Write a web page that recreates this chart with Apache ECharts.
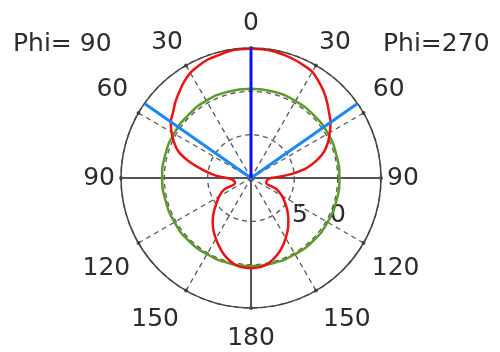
<!DOCTYPE html>
<html>
<head>
<meta charset="utf-8">
<script src="https://cdn.jsdelivr.net/npm/echarts@6/dist/echarts.min.js"></script>
<style>
  html, body { margin: 0; padding: 0; background: #ffffff; }
  #chart { width: 500px; height: 352px; }
</style>
</head>
<body>
<div id="chart"></div>
<script>
// Elevation pattern, two azimuth cuts (Phi = 90 on the left, Phi = 270 on the right).
// Radial unit: one grid ring = 1, outer ring = 3.

// Angle grid (degrees, clockwise from the zenith)
const angleTicks = [0, 30, 60, 90, 120, 150, 180, 210, 240, 270, 300, 330];

// Theta values at which the pattern was read (0 = zenith, 180 = nadir)
const thetaSteps = [0, 5, 10, 15, 20, 25, 30, 35, 40, 45, 50, 55, 60, 65, 70, 75, 80, 84, 87, 90,
                    95, 100, 108, 113, 120, 126, 132, 138, 144, 150, 155, 160, 165, 170, 175, 180];

// Main pattern, Phi = 270 side (right half)
const patternRight = [2.98, 2.98, 2.97, 2.94, 2.91, 2.87, 2.83, 2.72, 2.61, 2.48, 2.35, 2.24, 2.10, 1.96,
                      1.80, 1.57, 1.29, 0.97, 0.69, 0.46, 0.39, 0.37, 0.37, 0.62, 0.83, 0.97, 1.13, 1.29,
                      1.45, 1.60, 1.73, 1.85, 1.95, 2.03, 2.07, 2.08];

// Main pattern, Phi = 90 side (left half)
const patternLeft = [2.98, 2.98, 2.97, 2.93, 2.91, 2.86, 2.80, 2.70, 2.58, 2.47, 2.35, 2.26, 2.12, 1.96,
                     1.78, 1.48, 1.15, 0.92, 0.76, 0.55, 0.44, 0.39, 0.39, 0.67, 0.85, 0.98, 1.15, 1.32,
                     1.48, 1.62, 1.74, 1.86, 1.96, 2.04, 2.07, 2.08];

// Reference pattern (nearly isotropic)
const refAngles = [0, 15, 30, 45, 60, 75, 90, 105, 120, 135, 150, 165, 180,
                   195, 210, 225, 240, 255, 270, 285, 300, 315, 330, 345];
const refValues = [2.06, 2.06, 2.05, 2.05, 2.05, 2.04, 2.04, 2.04, 2.04, 2.04, 2.03, 2.03, 2.03,
                   2.03, 2.03, 2.04, 2.04, 2.04, 2.05, 2.05, 2.05, 2.05, 2.06, 2.06];

// Beam markers
const mainBeam = 0;
const halfPowerAngles = [305, 55];

// Texts
const cutLabels = ['Phi= 90', 'Phi=270'];
const ringLabels = ['5', '0'];

const R_MAX = 3;
const FONT = 'DejaVu Sans';
const TEXT_COLOR = '#2b2b2b';

// Build the closed pattern path: left half from nadir up to zenith, then right half down to nadir
const patternData = [];
for (let i = thetaSteps.length - 1; i >= 0; i--) {
  patternData.push([patternLeft[i], 360 - thetaSteps[i]]);
}
for (let i = 0; i < thetaSteps.length; i++) {
  patternData.push([patternRight[i], thetaSteps[i]]);
}

const refData = refAngles.map((a, i) => [refValues[i], a]);
refData.push([refValues[0], 360]);

// Per-label spacing around the rim
const base = { fontFamily: FONT, fontSize: 25, color: TEXT_COLOR };
const labelStyles = {
  a0:   Object.assign({ padding: [0, 0, 6, 0] }, base),
  a30:  Object.assign({ padding: [0, 0, 5, 0] }, base),
  a60l: Object.assign({ padding: [0, 5, 8, 0] }, base),
  a60r: Object.assign({ padding: [0, 0, 8, 4] }, base),
  a90:  Object.assign({ padding: [0, 0, 0, 0] }, base),
  a120l: Object.assign({ padding: [10, 3, 0, 0] }, base),
  a120r: Object.assign({ padding: [10, 0, 0, 3] }, base),
  a150l: Object.assign({ padding: [11, 4, 0, 0] }, base),
  a150r: Object.assign({ padding: [11, 0, 0, 4] }, base),
  a180: Object.assign({ padding: [12, 0, 0, 0] }, base)
};
const styleFor = {
  0: 'a0', 30: 'a30', 60: 'a60r', 90: 'a90', 120: 'a120r', 150: 'a150r', 180: 'a180',
  210: 'a150l', 240: 'a120l', 270: 'a90', 300: 'a60l', 330: 'a30'
};

const chart = echarts.init(document.getElementById('chart'), null, { renderer: 'canvas' });

chart.setOption({
  animation: false,
  backgroundColor: '#ffffff',
  polar: { center: [251, 178], radius: 130 },
  angleAxis: {
    type: 'value',
    min: 0,
    max: 360,
    interval: 30,
    startAngle: 90,
    clockwise: true,
    axisLine: { show: true, lineStyle: { color: '#444', width: 1.5 } },
    axisTick: { show: false },
    axisLabel: {
      margin: 6,
      fontFamily: FONT,
      fontSize: 25,
      color: TEXT_COLOR,
      formatter: v => '{' + (styleFor[v] || 'a90') + '|' + (v <= 180 ? v : 360 - v) + '}',
      rich: labelStyles
    },
    splitLine: { show: true, lineStyle: { color: '#555', width: 1.3, type: [5, 4] } }
  },
  radiusAxis: {
    type: 'value',
    min: 0,
    max: R_MAX,
    interval: 1,
    axisLine: { show: false },
    axisTick: { show: false },
    axisLabel: { show: false },
    splitLine: { show: true, lineStyle: { color: '#555', width: 1.3, type: [5, 4] } }
  },
  graphic: [
    { type: 'text', left: 13, top: 32, style: { text: cutLabels[0], font: '25px "DejaVu Sans"', fill: TEXT_COLOR } },
    { type: 'text', left: 383, top: 32, style: { text: cutLabels[1], font: '25px "DejaVu Sans"', fill: TEXT_COLOR } },
    { type: 'text', left: 292, top: 203, style: { text: ringLabels[0], font: '25px "DejaVu Sans"', fill: TEXT_COLOR } },
    { type: 'text', left: 330, top: 203, style: { text: ringLabels[1], font: '25px "DejaVu Sans"', fill: TEXT_COLOR } }
  ],
  series: [
    {
      name: 'horizon',
      type: 'line',
      coordinateSystem: 'polar',
      symbol: 'none',
      silent: true,
      lineStyle: { color: '#555', width: 2 },
      data: [[R_MAX, 270], [0, 0], [R_MAX, 90]]
    },
    {
      name: 'nadir',
      type: 'line',
      coordinateSystem: 'polar',
      symbol: 'none',
      silent: true,
      lineStyle: { color: '#555', width: 2 },
      data: [[0, 0], [R_MAX, 180]]
    },
    {
      name: 'ticks',
      type: 'scatter',
      coordinateSystem: 'polar',
      symbol: 'circle',
      symbolSize: 4,
      silent: true,
      itemStyle: { color: '#333' },
      data: angleTicks.map(a => [R_MAX, a])
    },
    {
      name: 'reference',
      type: 'line',
      coordinateSystem: 'polar',
      symbol: 'none',
      smooth: true,
      silent: true,
      lineStyle: { color: '#5e9a2a', width: 2.5 },
      data: refData
    },
    {
      name: 'pattern',
      type: 'line',
      coordinateSystem: 'polar',
      symbol: 'none',
      smooth: 0.3,
      silent: true,
      lineStyle: { color: '#ee1111', width: 2.5 },
      data: patternData
    },
    {
      name: 'half power',
      type: 'line',
      coordinateSystem: 'polar',
      symbol: 'none',
      silent: true,
      lineStyle: { color: '#1e88f0', width: 3 },
      data: [[R_MAX, halfPowerAngles[0]], [0, 0], [R_MAX, halfPowerAngles[1]]]
    },
    {
      name: 'main beam',
      type: 'line',
      coordinateSystem: 'polar',
      symbol: 'none',
      silent: true,
      lineStyle: { color: '#1010e8', width: 3 },
      data: [[0, 0], [R_MAX, mainBeam]]
    }
  ]
});
</script>
</body>
</html>
